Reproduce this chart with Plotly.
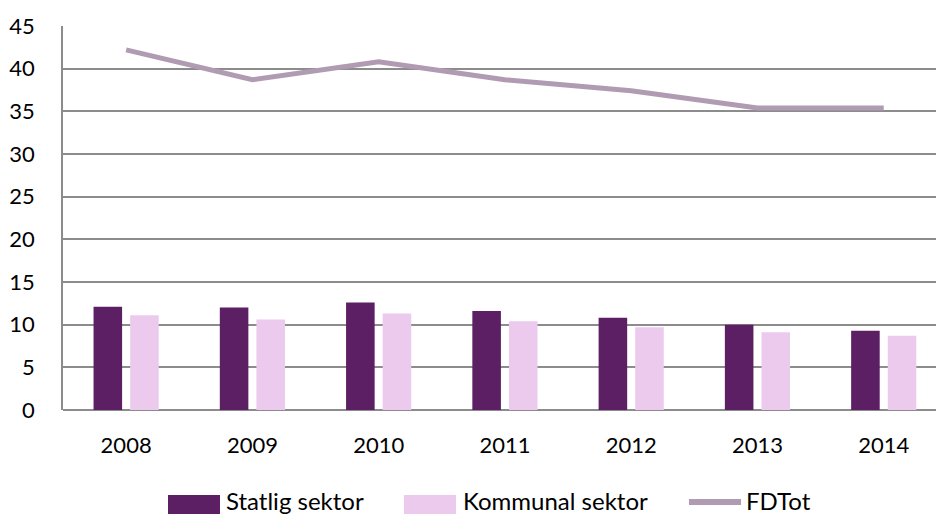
import plotly.graph_objects as go

years = ["2008", "2009", "2010", "2011", "2012", "2013", "2014"]
statlig = [12.1, 12.0, 12.6, 11.6, 10.8, 10.0, 9.3]
kommunal = [11.1, 10.6, 11.3, 10.4, 9.7, 9.1, 8.7]
fdtot = [42.2, 38.7, 40.8, 38.7, 37.4, 35.4, 35.4]
y_ticks = [0, 5, 10, 15, 20, 25, 30, 35, 40, 45]

names = ["Statlig sektor", "Kommunal sektor", "FDTot"]
colors = ["#5C1F63", "#EBCAEE", "#B09BB3"]

FONT = "Lato"
W, H = 936, 514
L, R, T, B = 63, 0, 26, 104
PW, PH = W - L - R, H - T - B


def px_x(px):
    return (px - L) / PW


def px_y(py):
    return (H - B - py) / PH


fig = go.Figure()
fig.add_trace(go.Bar(x=years, y=statlig, name=names[0],
                     marker=dict(color=colors[0], line=dict(width=0))))
fig.add_trace(go.Bar(x=years, y=kommunal, name=names[1],
                     marker=dict(color=colors[1], line=dict(width=0))))
fig.add_trace(go.Scatter(x=years, y=fdtot, name=names[2], mode="lines",
                         line=dict(color=colors[2], width=5)))

# custom legend (swatches + text), positioned in pixels
shapes = [
    dict(type="rect", xref="paper", yref="paper",
         x0=px_x(168), x1=px_x(220), y0=px_y(516), y1=px_y(495),
         fillcolor=colors[0], line=dict(width=0), layer="above"),
    dict(type="rect", xref="paper", yref="paper",
         x0=px_x(404), x1=px_x(456), y0=px_y(516), y1=px_y(495),
         fillcolor=colors[1], line=dict(width=0), layer="above"),
    dict(type="line", xref="paper", yref="paper",
         x0=px_x(689), x1=px_x(741), y0=px_y(502), y1=px_y(502),
         line=dict(color=colors[2], width=6), layer="above"),
]
annotations = [
    dict(text=names[0], xref="paper", yref="paper", x=px_x(224), y=px_y(500),
         xanchor="left", yanchor="middle", showarrow=False,
         font=dict(family=FONT, size=24, color="#000")),
    dict(text=names[1], xref="paper", yref="paper", x=px_x(461), y=px_y(500),
         xanchor="left", yanchor="middle", showarrow=False,
         font=dict(family=FONT, size=24, color="#000")),
    dict(text=names[2], xref="paper", yref="paper", x=px_x(744), y=px_y(500),
         xanchor="left", yanchor="middle", showarrow=False,
         font=dict(family=FONT, size=24, color="#000")),
]

fig.update_layout(
    width=W, height=H,
    margin=dict(l=L, r=R, t=T, b=B),
    paper_bgcolor="white", plot_bgcolor="white",
    font=dict(family=FONT, size=22, color="#000000"),
    barmode="group", bargap=0.42, bargroupgap=0.22,
    showlegend=False,
    shapes=shapes, annotations=annotations,
    xaxis=dict(type="category", range=[-0.5, 6.414], showgrid=False,
               showline=False, ticks="", ticklabelstandoff=20,
               tickfont=dict(size=22), automargin=False),
    yaxis=dict(range=[0, 45], tickvals=y_ticks, showgrid=True,
               gridcolor="#8C8C8C", gridwidth=1.5, zeroline=True,
               zerolinecolor="#8C8C8C", zerolinewidth=1.5,
               showline=True, linecolor="#8C8C8C", linewidth=1.5,
               ticks="", ticklabelstandoff=22, tickfont=dict(size=22),
               automargin=False),
)

fig.write_html(
    "out.html",
    config={"displayModeBar": False},
    post_script="document.body.style.margin='0';document.body.style.overflow='hidden';",
)
